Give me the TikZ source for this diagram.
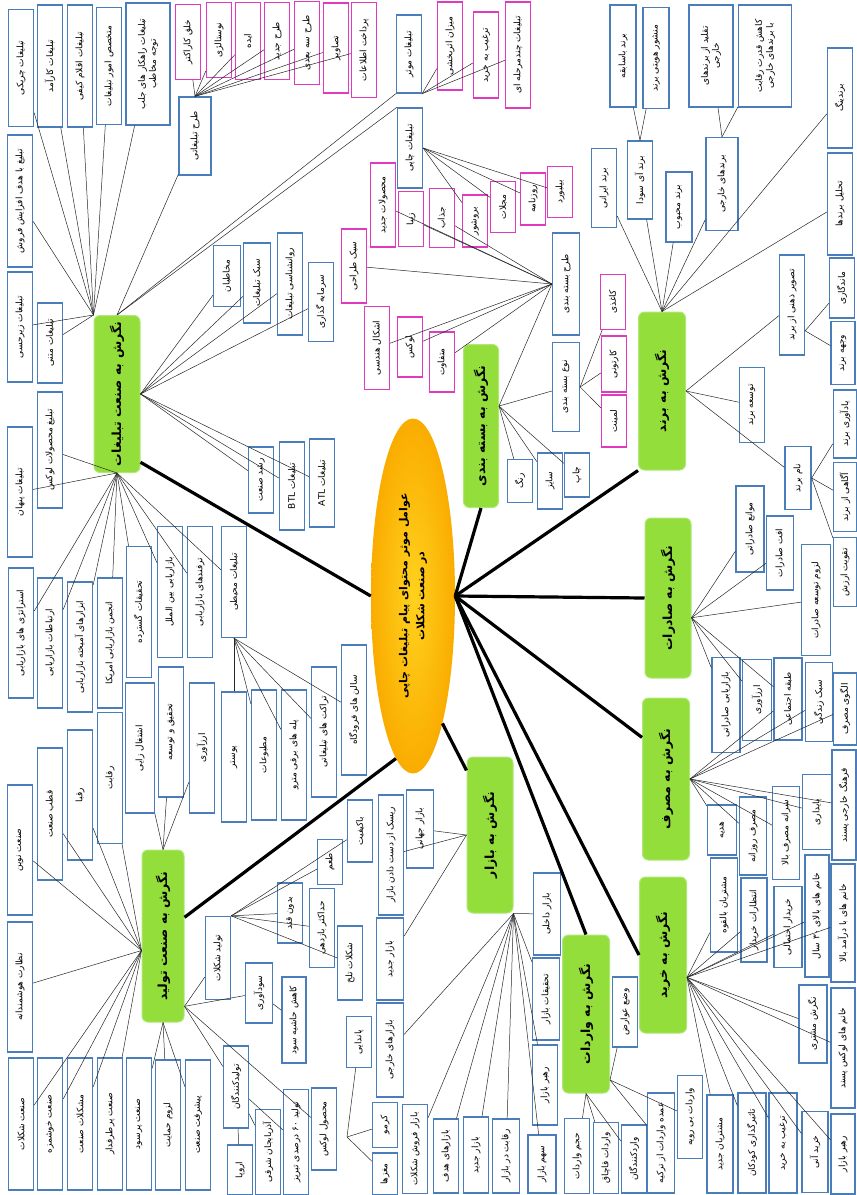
\documentclass[tikz,border=0pt]{standalone}
\usepackage{fontspec}
\usepackage{xcolor}
\usepackage{tikz}
\usetikzlibrary{shapes.geometric}
\usetikzlibrary{calc}

\newfontfamily\farsi[Script=Arabic]{DejaVu Sans}
\TeXXeTstate=1
\newcommand{\fa}[1]{\beginR #1\endR}

\definecolor{boxblue}{RGB}{74,126,187}
\definecolor{boxpink}{RGB}{226,58,190}
\definecolor{hubgreen}{RGB}{148,222,60}
\definecolor{hubedge}{RGB}{175,232,120}
\definecolor{msggold}{RGB}{255,210,30}
\definecolor{msgrim}{RGB}{250,172,0}

\begin{document}
\begin{tikzpicture}[x=1pt, y=-1pt,
	blu/.style={rectangle, draw=boxblue, line width=1.3pt, fill=white, rotate=90, minimum height=25, inner sep=1pt, align=center, font=\farsi\fontsize{9}{11}\selectfont},
	pnk/.style={blu, draw=boxpink},
	hub/.style={rectangle, rounded corners=6pt, draw=hubedge, fill=hubgreen, line width=1pt, rotate=90, minimum height=46, inner sep=1pt, font=\farsi\bfseries\fontsize{12.5}{14}\selectfont}]
			\useasboundingbox (0,0) rectangle (857,1195);
			
			% centre and hubs
			\node (msg) [ellipse, inner color=msggold, outer color=msgrim, rotate=90, minimum width=355, minimum height=84, inner sep=0pt, align=center, font=\farsi\bfseries\fontsize{11}{17}\selectfont] at (413,596) {\fa{عوامل موثر محتوای پیام تبلیغات چاپی}\\\fa{در صنعت شکلات}};
			\node (tbl) [hub, minimum width=157] at (117,394) {\fa{نگرش به صنعت تبلیغات}};
			\node (tol) [hub, minimum width=172, minimum height=42] at (163,936) {\fa{نگرش به صنعت تولید}};
			\node (bzr) [hub, minimum width=156] at (490,835) {\fa{نگرش به بازار}};
			\node (vrd) [hub, minimum width=158, minimum height=47] at (586,1014) {\fa{نگرش به واردات}};
			\node (khr) [hub, minimum width=156, minimum height=47] at (663,955) {\fa{نگرش به خرید}};
			\node (msr) [hub, minimum width=162, minimum height=47] at (666,779) {\fa{نگرش به مصرف}};
			\node (sdr) [hub, minimum width=160] at (668,598) {\fa{نگرش به صادرات}};
			\node (brd) [hub, minimum width=158, minimum height=47] at (662,391) {\fa{نگرش به برند}};
			\node (bst) [hub, minimum width=163, minimum height=35] at (481,426) {\fa{نگرش به بسته بندی}};
			
			% tablighat
			\node (t1) [blu, minimum width=117] at (21,68) {\fa{تبلیغات چریکی}};
			\node (t2) [blu, minimum width=122] at (50,66) {\fa{تبلیغات کارآمد}};
			\node (t3) [blu, minimum width=122] at (80,66) {\fa{تبلیغات اقلام کیفی}};
			\node (t4) [blu, minimum width=117] at (109,66) {\fa{متخصص امور تبلیغات}};
			\node (t5) [blu, minimum width=122, minimum height=44] at (148,64) {\fa{تبلیغات راهکار های جلب}\\\fa{توجه مخاطب}};
			\node (t6) [blu, minimum width=132] at (20,201) {\fa{تبلیغ با هدف افزایش فروش}};
			\node (t7) [blu, minimum width=110] at (20,327) {\fa{تبلیغات زیرحسی}};
			\node (t8) [blu, minimum width=80] at (50,343) {\fa{تبلیغات متنی}};
			\node (t9) [blu, minimum width=78, minimum height=32] at (195,136) {\fa{طرح تبلیغاتی}};
			\node (t10) [blu, minimum width=78] at (409,54) {\fa{تبلیغات موثر}};
			\node (t11) [blu, minimum width=80] at (410,148) {\fa{تبلیغات چاپی}};
			\node (p1) [pnk, minimum width=75] at (188,42) {\fa{خلق کاراکتر}};
			\node (p2) [pnk, minimum width=75] at (219,40) {\fa{نوستالژی}};
			\node (p3) [pnk, minimum width=77] at (248,41) {\fa{ایده}};
			\node (p4) [pnk, minimum width=77] at (277,41) {\fa{طرح جدید}};
			\node (p5) [pnk, minimum width=83] at (307,43) {\fa{طرح سه بعدی}};
			\node (p6) [pnk, minimum width=90] at (336,48) {\fa{تصاویر}};
			\node (p7) [pnk, minimum width=95] at (364,50) {\fa{پرداخت اطلاعات}};
			\node (p8) [pnk, minimum width=88] at (450,46) {\fa{میزان اثربخشی}};
			\node (p9) [pnk, minimum width=86] at (486,55) {\fa{ترغیب به خرید}};
			\node (p10) [pnk, minimum width=106] at (518,55) {\fa{تبلیغات چندمرحله ای}};
			\node (p11) [pnk, minimum width=52] at (475,221) {\fa{بروشور}};
			\node (p12) [pnk, minimum width=51] at (503,207) {\fa{مجلات}};
			\node (p13) [pnk, minimum width=52] at (533,199) {\fa{روزنامه}};
			\node (p14) [pnk, minimum width=51] at (560,192) {\fa{بیلبورد}};
			\node (t12) [blu, minimum width=61, minimum height=27] at (227,276) {\fa{مخاطبان}};
			\node (t13) [blu, minimum width=80, minimum height=27] at (257,283) {\fa{سبک تبلیغات}};
			\node (t14) [blu, minimum width=102] at (290,284) {\fa{روانشناسی تبلیغات}};
			\node (t15) [blu, minimum width=79] at (321,302) {\fa{سرمایه گذاری}};
			\node (t16) [blu, minimum width=66] at (261,480) {\fa{رشد صنعت}};
			\node (t17) [blu, minimum width=88] at (292,486) {\fa{تبلیغات BTL}};
			\node (t18) [blu, minimum width=88] at (322,483) {\fa{تبلیغات ATL}};
			\node (t19) [blu, minimum width=116] at (50,450) {\fa{تبلیغ محصولات لوکس}};
			\node (t20) [blu, minimum width=130] at (20,492) {\fa{تبلیغات پنهان}};
			\node (t21) [blu, minimum width=130] at (21,633) {\fa{استراتژی های بازاریابی}};
			\node (t22) [blu, minimum width=130] at (50,643) {\fa{ارتباطات بازاریابی}};
			\node (t23) [blu, minimum width=130] at (80,647) {\fa{ابزارهای آمیخته بازاریابی}};
			\node (t24) [blu, minimum width=130] at (110,643) {\fa{انجمن بازاریابی امریکا}};
			\node (t25) [blu, minimum width=131] at (139,612) {\fa{تحقیقات گسترده}};
			\node (t26) [blu, minimum width=131] at (170,592) {\fa{بازاریابی بین الملل}};
			\node (t27) [blu, minimum width=131] at (200,592) {\fa{ترفندهای بازاریابی}};
			\node (t28) [blu, minimum width=111] at (234,582) {\fa{تبلیغات محیطی}};
			\node (t29) [blu, minimum width=130] at (234,757) {\fa{پوستر}};
			\node (t30) [blu, minimum width=130] at (264,755) {\fa{مطبوعات}};
			\node (t31) [blu, minimum width=130] at (294,755) {\fa{پله های برقی مترو}};
			\node (t32) [blu, minimum width=130] at (324,732) {\fa{تراکت های تبلیغاتی}};
			\node (t33) [blu, minimum width=130] at (354,710) {\fa{سالن های فرودگاه}};
			
			% tolid
			\node (o1) [blu, minimum width=130] at (20,850) {\fa{صنعت نوین}};
			\node (o2) [blu, minimum width=132] at (50,814) {\fa{قطب صنعت}};
			\node (o3) [blu, minimum width=130] at (80,795) {\fa{رقبا}};
			\node (o4) [blu, minimum width=131] at (110,778) {\fa{رقابت}};
			\node (o5) [blu, minimum width=130] at (20,987) {\fa{نظارت هوشمندانه}};
			\node (o6) [blu, minimum width=132] at (21,1124) {\fa{صنعت شکلات}};
			\node (o7) [blu, minimum width=132] at (50,1124) {\fa{صنعت خوشمزه}};
			\node (o8) [blu, minimum width=132] at (80,1124) {\fa{مشکلات صنعت}};
			\node (o9) [blu, minimum width=132] at (110,1124) {\fa{صنعت پرطرفدار}};
			\node (o10) [blu, minimum width=132] at (139,1124) {\fa{صنعت پرسود}};
			\node (o11) [blu, minimum width=130] at (168,1125) {\fa{لزوم حمایت}};
			\node (o12) [blu, minimum width=130] at (198,1125) {\fa{پیشرفت صنعت}};
			\node (o13) [blu, minimum width=130, minimum height=29] at (140,748) {\fa{اشتغال زایی}};
			\node (o14) [blu, minimum width=130] at (171,732) {\fa{تحقیق و توسعه}};
			\node (o15) [blu, minimum width=130] at (202,748) {\fa{ارزآوری}};
			\node (o16) [blu, minimum width=83] at (218,958) {\fa{تولید شکلات}};
			\node (o17) [blu, minimum width=60, minimum height=27] at (259,993) {\fa{سودآوری}};
			\node (o18) [blu, minimum width=82] at (236,1087) {\fa{تولیدکنندگان}};
			\node (o19) [blu, minimum width=82] at (324,1129) {\fa{محصول لوکس}};
			\node (o20) [blu, minimum width=60] at (290,913) {\fa{بدون قند}};
			\node (o21) [blu, minimum width=79] at (322,928) {\fa{حداکثر بازدهی}};
			\node (o22) [blu, minimum width=74] at (350,963) {\fa{شکلات تلخ}};
			\node (o23) [blu, minimum width=45] at (330,862) {\fa{طعم}};
			\node (o24) [blu, minimum width=62] at (360,831) {\fa{باکیفیت}};
			\node (o25) [blu, minimum width=86, minimum height=24] at (294,1020) {\fa{کاهش حاشیه سود}};
			\node (o26) [blu, minimum width=105] at (296,1142) {\fa{تولید ۶۰ درصدی تبریز}};
			\node (o27) [blu, minimum width=85] at (268,1152) {\fa{آذربایجان شرقی}};
			\node (o28) [blu, minimum width=50] at (240,1170) {\fa{اروپا}};
			\node (o29) [blu, minimum width=51] at (359,1042) {\fa{پاندایی}};
			\node (o30) [blu, minimum width=45] at (385,1125) {\fa{کرمو}};
			\node (o31) [blu, minimum width=42] at (385,1174) {\fa{مغزها}};
			\coordinate (pnd) at (347,1137);
			
			% bazar
			\node (b1) [blu, minimum width=78, minimum height=27] at (420,829) {\fa{بازار جهانی}};
			\node (b2) [blu, minimum width=120] at (391,855) {\fa{ریسک از دست دادن بازار}};
			\node (b3) [blu, minimum width=82, minimum height=27] at (390,959) {\fa{بازار جدید}};
			\node (b4) [blu, minimum width=82, minimum height=27] at (547,914) {\fa{بازار داخلی}};
			\node (b5) [blu, minimum width=82, minimum height=27] at (546,999) {\fa{تحقیقات بازار}};
			\node (b6) [blu, minimum width=80] at (545,1085) {\fa{رهبر بازار}};
			\node (b7) [blu, minimum width=58, minimum height=28] at (542,1164) {\fa{سهم بازار}};
			\node (b8) [blu, minimum width=74, minimum height=27] at (506,1156) {\fa{رقابت در بازار}};
			\node (b9) [blu, minimum width=76] at (476,1155) {\fa{بازار جدید}};
			\node (b10) [blu, minimum width=74] at (446,1156) {\fa{بازارهای هدف}};
			\node (b11) [blu, minimum width=89] at (415,1149) {\fa{بازار فروش شکلات}};
			\node (b12) [blu, minimum width=94, minimum height=27] at (390,1050) {\fa{بازارهای خارجی}};
			
			% varedat
			\node (v1) [blu, minimum width=70] at (625,1012) {\fa{وضع عوارض}};
			\node (v2) [blu, minimum width=83] at (690,1117) {\fa{واردات بی رویه}};
			\node (v3) [blu, minimum width=100, minimum height=27] at (661,1143) {\fa{عمده واردات از ترکیه}};
			\node (v4) [blu, minimum width=75] at (577,1156) {\fa{حجم واردات}};
			\node (v5) [blu, minimum width=71] at (606,1158) {\fa{واردات قاچاق}};
			\node (v6) [blu, minimum width=68] at (634,1159) {\fa{واردکنندگان}};
			
			% kharid
			\node (k1) [blu, minimum width=94, minimum height=27] at (724,905) {\fa{مشتریان بالقوه}};
			\node (k2) [blu, minimum width=84, minimum height=26] at (754,920) {\fa{انتظارات خریدار}};
			\node (k3) [blu, minimum width=81, minimum height=28] at (788,927) {\fa{خریدار احتمالی}};
			\node (k4) [blu, minimum width=122, minimum height=24] at (817,916) {\fa{خانم های بالای ۳۰ سال}};
			\node (k5) [blu, minimum width=118, minimum height=24] at (843,923) {\fa{خانم های با درآمد بالا}};
			\node (k6) [blu, minimum width=78, minimum height=28] at (813,1024) {\fa{نگرش مشتری}};
			\node (k7) [blu, minimum width=120, minimum height=24] at (843,1048) {\fa{خانم های لوکس پسند}};
			\node (k8) [blu, minimum width=80, minimum height=24] at (843,1154) {\fa{رهبر بازار}};
			\node (k9) [blu, minimum width=81, minimum height=26] at (815,1152) {\fa{خرید آنی}};
			\node (k10) [blu, minimum width=100, minimum height=28] at (783,1143) {\fa{ترغیب به خرید}};
			\node (k11) [blu, minimum width=100, minimum height=28] at (752,1143) {\fa{تاثیرگذاری کودکان}};
			\node (k12) [blu, minimum width=98, minimum height=26] at (720,1144) {\fa{مشتریان جدید}};
			
			% masraf
			\node (m1) [blu, minimum width=50, minimum height=29] at (722,830) {\fa{هدیه}};
			\node (m2) [blu, minimum width=78, minimum height=27] at (753,836) {\fa{مصرف روزانه}};
			\node (m3) [blu, minimum width=93, minimum height=27] at (786,833) {\fa{سرانه مصرف بالا}};
			\node (m4) [blu, minimum width=75, minimum height=29] at (817,812) {\fa{پایداری}};
			\node (m5) [blu, minimum width=110, minimum height=24] at (844,805) {\fa{فرهنگ خارجی پسند}};
			\node (m6) [blu, minimum width=72, minimum height=23] at (845,709) {\fa{الگوی مصرف}};
			\node (m7) [blu, minimum width=79, minimum height=27] at (819,702) {\fa{سبک زندگی}};
			
			% saderat
			\node (s1) [blu, minimum width=86, minimum height=28] at (750,529) {\fa{موانع صادراتی}};
			\node (s2) [blu, minimum width=74, minimum height=27] at (780,553) {\fa{افت صادرات}};
			\node (s3) [blu, minimum width=111, minimum height=29] at (816,600) {\fa{لزوم توسعه صادرات}};
			\node (s4) [blu, minimum width=95, minimum height=28] at (726,705) {\fa{بازاریابی صادراتی}};
			\node (s5) [blu, minimum width=81, minimum height=29] at (757,700) {\fa{ارزآوری}};
			\node (s6) [blu, minimum width=82, minimum height=28] at (788,699) {\fa{طبقه اجتماعی}};
			
			% brand
			\node (r1) [blu, minimum width=79] at (604,188) {\fa{برند ایرانی}};
			\node (r2) [blu, minimum width=78] at (640,180) {\fa{برند آی سودا}};
			\node (r3) [blu, minimum width=70, minimum height=26] at (679,207) {\fa{برند محبوب}};
			\node (r4) [blu, minimum width=93, minimum height=32] at (722,184) {\fa{برندهای خارجی}};
			\node (r5) [blu, minimum width=100] at (840,98) {\fa{برندینگ}};
			\node (r6) [blu, minimum width=102] at (840,204) {\fa{تحلیل برندها}};
			\node (r7) [blu, minimum width=102, minimum height=26] at (623,56) {\fa{برند باسابقه}};
			\node (r8) [blu, minimum width=101, minimum height=26] at (656,58) {\fa{منشور هویتی برند}};
			\node (r9) [blu, minimum width=102, minimum height=44] at (711,56) {\fa{تقلید از برندهای}\\\fa{خارجی}};
			\node (r10) [blu, minimum width=102, minimum height=53] at (765,56) {\fa{کاهش قدرت رقابت}\\\fa{با برندهای خارجی}};
			\node (r11) [blu, minimum width=100] at (792,305) {\fa{تصویر ذهنی از برند}};
			\node (r12) [blu, minimum width=75] at (752,405) {\fa{توسعه برند}};
			\node (r13) [blu, minimum width=63, minimum height=26] at (798,478) {\fa{نام برند}};
			\node (r14) [blu, minimum width=60] at (842,288) {\fa{ماندگاری}};
			\node (r15) [blu, minimum width=63, minimum height=24] at (843,353) {\fa{وجهه برند}};
			\node (r16) [blu, minimum width=68, minimum height=23] at (845,424) {\fa{یادآوری برند}};
			\node (r17) [blu, minimum width=69, minimum height=23] at (845,497) {\fa{آگاهی از برند}};
			\node (r18) [blu, minimum width=69, minimum height=23] at (845,572) {\fa{تقویت ارزش}};
			
			% baste bandi
			\node (a1) [blu, minimum width=43] at (520,481) {\fa{رنگ}};
			\node (a2) [blu, minimum width=56] at (550,481) {\fa{سایز}};
			\node (a3) [blu, minimum width=44] at (577,475) {\fa{چاپ}};
			\node (a4) [blu, minimum width=89, minimum height=27] at (566,387) {\fa{نوع بسته بندی}};
			\node (a5) [blu, minimum width=102, minimum height=27] at (566,284) {\fa{طرح بسته بندی}};
			\node (a6) [pnk, minimum width=55] at (613,302) {\fa{کاغذی}};
			\node (a7) [pnk, minimum width=56] at (614,364) {\fa{کارتونی}};
			\node (a8) [pnk, minimum width=52] at (614,421) {\fa{لمینت}};
			\node (a9) [pnk, minimum width=74] at (354,266) {\fa{سبک طراحی}};
			\node (a10) [pnk, minimum width=84] at (383,205) {\fa{محصولات جدید}};
			\node (a11) [pnk, minimum width=55] at (411,219) {\fa{زیبا}};
			\node (a12) [pnk, minimum width=59] at (442,218) {\fa{جذاب}};
			\node (a13) [pnk, minimum width=83] at (377,348) {\fa{اشکال هندسی}};
			\node (a14) [pnk, minimum width=60] at (410,347) {\fa{لوکس}};
			\node (a15) [pnk, minimum width=60] at (442,362) {\fa{متفاوت}};
			
			% thin connectors
			\begin{scope}[every edge/.style = {draw = black!85, line width=0.5pt}]
			\path (tbl.north east) edge (t1) edge (t2) edge (t3) edge (t4) edge (t5) edge (t6) edge (t7) edge (t8);
			\path (tbl.east) edge (t9) edge (t10.north west) edge (t11.north east);
			\path (t9.east) edge (p1) edge (p2) edge (p3) edge (p4) edge (p5) edge (p6) edge (p7);
			\path (t10.south west) edge (p8) edge (p9) edge (p10);
			\path (t11.south) edge (p11) edge (p12) edge (p13) edge (p14);
			\path (tbl.south) edge (t12) edge (t13) edge (t14) edge (t15) edge (t16) edge (t17) edge (t18);
			\path (tbl.west) edge (t19) edge (t20) edge (t21) edge (t22) edge (t23) edge (t24) edge (t25) edge (t26) edge (t27) edge (t28);
			\path (t28.west) edge (t29) edge (t30) edge (t31) edge (t32) edge (t33);
			
			\path (tol.124) edge (o1) edge (o2) edge (o3) edge (o4) edge (o5) edge (o6) edge (o7) edge (o8) edge (o9);
			\path (tol.west) edge (o10) edge (o11) edge (o12);
			\path (tol.east) edge (o13) edge (o14) edge (o15);
			\path (tol.197) edge (o16) edge (o17) edge (o18) edge (o19);
			\path (o16.south east) edge (o20) edge (o21) edge (o22) edge (o23) edge (o24);
			\path (o17) edge (o25);
			\path (o18) edge (o26) edge (o27) edge (o28);
			\path (o29) edge (pnd) (pnd) edge (o30) edge (o31);
			
			\path (bzr.north) edge (b1) edge (b2) edge (b3);
			\path (bzr.south west) edge (b4) edge (b5) edge (b6) edge (b7) edge (b8) edge (b9) edge (b10) edge (b11) edge (b12);
			
			\path (vrd.200) edge (v1) edge (v2) edge (v3);
			\path (vrd.west) edge (v4) edge (v5) edge (v6);
			
			\path (khr.227) edge (k1) edge (k2) edge (k3) edge (k4) edge (k5) edge (k6) edge (k7) edge (k8) edge (k9) edge (k10) edge (k11) edge (k12);
			
			\path (msr.south) edge (m1) edge (m2) edge (m3) edge (m4) edge (m5) edge (m6) edge (m7) edge (s6);
			\path (sdr.230) edge (s1) edge (s2) edge (s3) edge (s4) edge (s5) edge (s6);
			
			\path (brd.east) edge (r1) edge (r2) edge (r3) edge (r4) edge (r5) edge (r6);
			\path (r2.east) edge (r7) edge (r8);
			\path (r4.east) edge (r9) edge (r10);
			\path (brd.south) edge (r11) edge (r12) edge (r13);
			\path (r11.207) edge (r14) edge (r15);
			\path (r13.south) edge (r16) edge (r17) edge (r18);
			
			\path (bst.318) edge (a1) edge (a2) edge (a3) edge (a4) edge (a5.north);
			\path (a4.south) edge (a6) edge (a7) edge (a8);
			\path (a5.north) edge (a9) edge (a10) edge (a11) edge (a12) edge (a13) edge (a14) edge (a15);
			\end{scope}
			
			% thick connectors
			\begin{scope}[every edge/.style = {draw = black, line width=3.2pt}]
			\path (msg.north) edge (tbl.199);
			\path (msg.174) edge (tol.311);
			\path (msg.193) edge (bzr.20);
			\path (msg.south) edge (bst.west) edge (brd.north west) edge (sdr.north) edge (msr.30) edge (khr.north) edge (vrd.east);
			\end{scope}
			
			\end{tikzpicture}
\end{document}
